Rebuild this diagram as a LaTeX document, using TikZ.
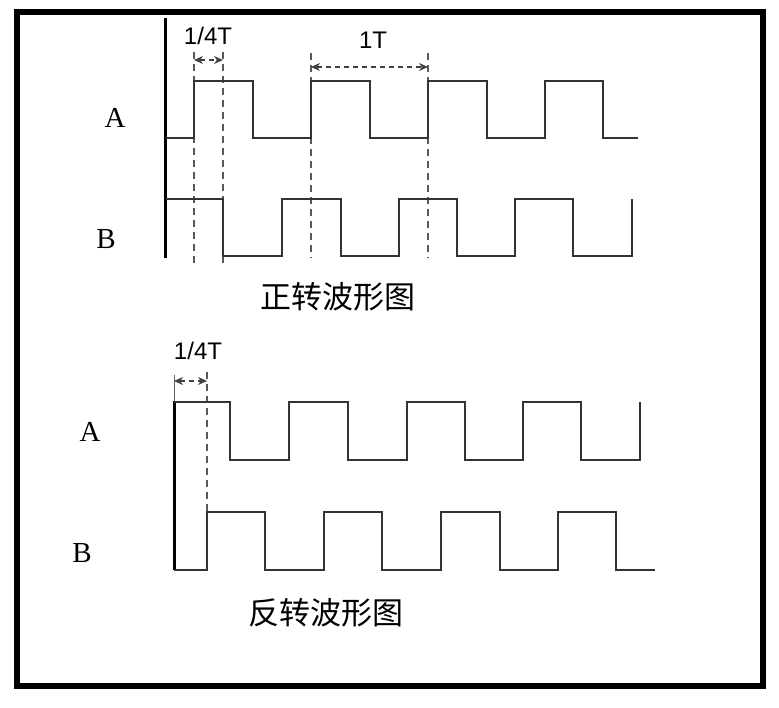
\documentclass[tikz,border=0pt]{standalone}
\usepackage{fontspec}
\setmainfont{Liberation Serif}
\newfontfamily\lsans{Liberation Sans}
\newfontfamily\cjk{Noto Sans CJK SC}
\usetikzlibrary{arrows.meta}
\begin{document}
\begin{tikzpicture}[x=1pt,y=-1pt,
  wave/.style={line width=2.3pt,draw=black!80,line join=miter},
  axis/.style={line width=3pt,draw=black},
  guide/.style={line width=1.3pt,draw=black!65,dash pattern=on 7pt off 5pt},
  dim/.style={line width=1.3pt,draw=black!75,dash pattern=on 5pt off 4pt,{Stealth[length=9pt,width=8pt]}-{Stealth[length=9pt,width=8pt]}},
  siglabel/.style={font=\fontsize{29}{29}\selectfont,inner sep=0pt},
  dimlabel/.style={font=\lsans\fontsize{24}{24}\selectfont,inner sep=0pt},
  title/.style={font=\cjk\fontsize{31}{31}\selectfont,inner sep=0pt}]
\useasboundingbox (0,0) rectangle (779,707);
\fill[white] (0,0) rectangle (779,707);
\draw[line width=6.5pt] (17,12) rectangle (763,686);

% ---- forward rotation ----
\draw[axis] (165,18) -- (165,258);
% guides
\draw[guide] (194,52) -- (194,263);
\draw[guide] (223,52) -- (223,263);
\draw[guide] (311,53) -- (311,258);
\draw[guide] (428,53) -- (428,258);
% A
\draw[wave] (166,138) -- (194,138) -- (194,81) -- (253,81) -- (253,138) -- (311,138) -- (311,81)
  -- (370,81) -- (370,138) -- (428,138) -- (428,81) -- (487,81) -- (487,138) -- (545,138)
  -- (545,81) -- (603,81) -- (603,138) -- (638,138);
% B
\draw[wave] (166,199) -- (223,199) -- (223,256) -- (282,256) -- (282,199) -- (341,199) -- (341,256)
  -- (399,256) -- (399,199) -- (457,199) -- (457,256) -- (515,256) -- (515,199) -- (573,199)
  -- (573,256) -- (632,256) -- (632,199);
% dimensions
\coordinate (q1) at (194,60); \coordinate (q2) at (223,60);
\coordinate (p1) at (311,67); \coordinate (p2) at (428,67);
\draw[dim] (q1) -- (q2);
\draw[dim] (p1) -- (p2);
\node[dimlabel] (lq1) at (208,36) {1/4T};
\node[dimlabel] (lp1) at (373,40) {1T};
\node[siglabel] (fa) at (115,118) {A};
\node[siglabel] (fb) at (106,239) {B};
\node[title] (ft) at (338,297) {正转波形图};

% ---- reverse rotation ----
\draw[axis] (174,401) -- (174,570);
\draw[line width=1pt,draw=black!60] (174,375) -- (174,401);
\draw[guide] (207,372) -- (207,512);
% A
\draw[wave] (174,402) -- (230,402) -- (230,460) -- (289,460) -- (289,402) -- (348,402) -- (348,460)
  -- (407,460) -- (407,402) -- (465,402) -- (465,460) -- (523,460) -- (523,402) -- (581,402)
  -- (581,460) -- (640,460) -- (640,402);
% B
\draw[wave] (174,570) -- (207,570) -- (207,512) -- (265,512) -- (265,570) -- (324,570) -- (324,512)
  -- (382,512) -- (382,570) -- (441,570) -- (441,512) -- (500,512) -- (500,570) -- (558,570)
  -- (558,512) -- (616,512) -- (616,570) -- (655,570);
\coordinate (r1) at (174,381); \coordinate (r2) at (207,381);
\draw[dim] (r1) -- (r2);
\node[dimlabel] (lr1) at (198,351) {1/4T};
\node[siglabel] (ra) at (90,432) {A};
\node[siglabel] (rb) at (82,553) {B};
\node[title] (rt) at (326,613) {反转波形图};
\end{tikzpicture}
\end{document}
